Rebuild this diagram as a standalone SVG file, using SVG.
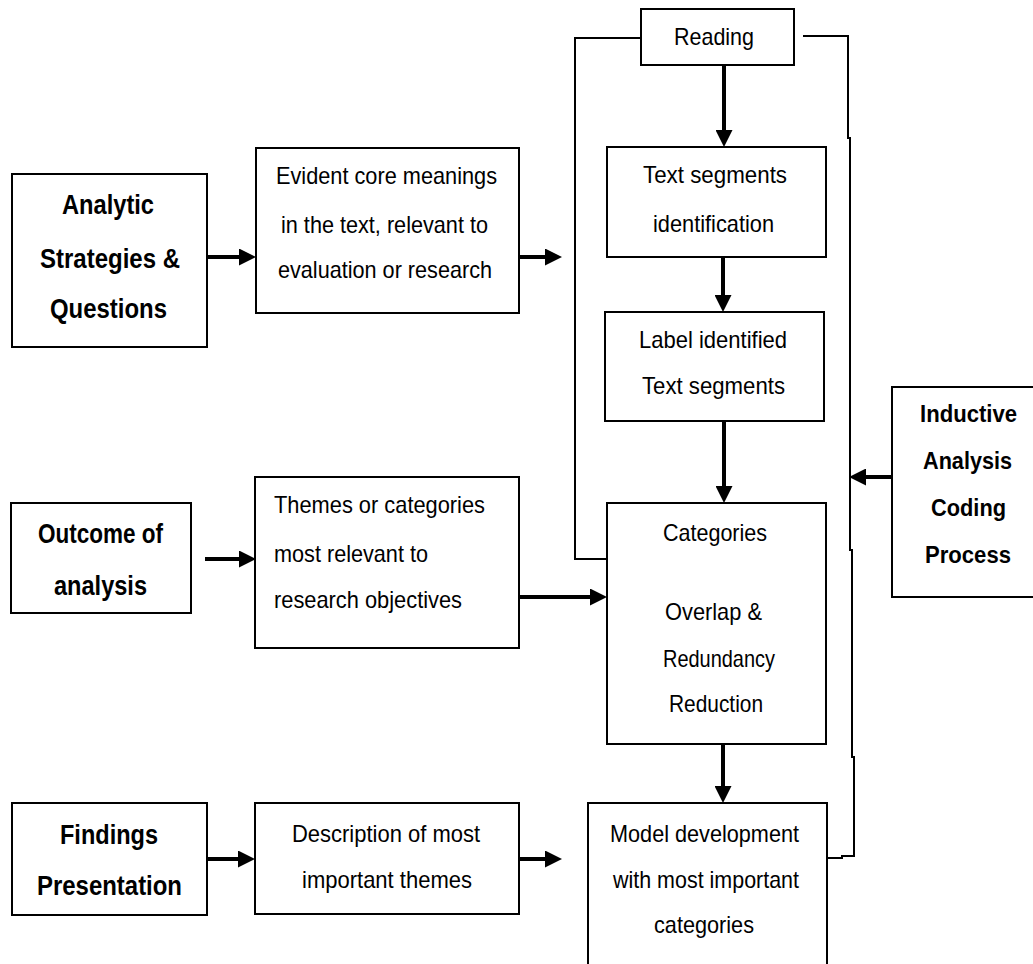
<svg xmlns="http://www.w3.org/2000/svg" width="1033" height="964" viewBox="0 0 1033 964">
  <style>
    .box { fill: #ffffff; stroke: #000000; stroke-width: 2; }
    .txt { font-family: "Liberation Sans Narrow", "Liberation Sans", Arial, sans-serif; font-size: 24px; fill: #000000; }
    .bold { font-family: "Liberation Sans", Arial, sans-serif; font-size: 27px; font-weight: bold; fill: #000000; }
    .edge { font-size: 24px; }
    .arrow { fill: none; stroke: #000000; stroke-width: 4; }
    .loop { fill: none; stroke: #000000; stroke-width: 2; }
  </style>
  <defs>
    <marker id="head" viewBox="0 0 17 17" refX="4" refY="8.5" markerWidth="17" markerHeight="17" markerUnits="userSpaceOnUse" orient="auto">
      <path d="M0,0 L17,8.5 L0,17 Z" fill="#000000"/>
    </marker>
  </defs>
  <rect width="1033" height="964" fill="#ffffff"/>

  <!-- connectors -->
  <g id="connectors">
    <!-- feedback loops around the coding column -->
    <polyline class="loop" points="641,38 575,38 575,559 607,559"/>
    <polyline class="loop" points="803,36 848,36 848,138 850,138 850,550 852,550 852,757 854,757 854,856 842,856 842,858 827,858"/>
    <!-- horizontal arrows -->
    <line class="arrow" x1="207" y1="257" x2="243" y2="257" marker-end="url(#head)"/>
    <line class="arrow" x1="519" y1="257" x2="549" y2="257" marker-end="url(#head)"/>
    <line class="arrow" x1="205" y1="559" x2="243" y2="559" marker-end="url(#head)"/>
    <line class="arrow" x1="519" y1="597" x2="594" y2="597" marker-end="url(#head)"/>
    <line class="arrow" x1="207" y1="859" x2="242" y2="859" marker-end="url(#head)"/>
    <line class="arrow" x1="519" y1="859" x2="549" y2="859" marker-end="url(#head)"/>
    <line class="arrow" x1="892" y1="477" x2="862" y2="477" marker-end="url(#head)"/>
    <!-- vertical arrows -->
    <line class="arrow" x1="724" y1="65" x2="724" y2="134" marker-end="url(#head)"/>
    <line class="arrow" x1="723" y1="257" x2="723" y2="299" marker-end="url(#head)"/>
    <line class="arrow" x1="724" y1="421" x2="724" y2="490" marker-end="url(#head)"/>
    <line class="arrow" x1="723" y1="744" x2="723" y2="790" marker-end="url(#head)"/>
  </g>

  <!-- left column -->
  <g id="analytic">
    <rect class="box" x="12" y="174" width="195" height="173"/>
    <text class="bold" x="62" y="214" textLength="92" lengthAdjust="spacingAndGlyphs">Analytic</text>
    <text class="bold" x="40" y="268" textLength="140" lengthAdjust="spacingAndGlyphs">Strategies &amp;</text>
    <text class="bold" x="50" y="318" textLength="117" lengthAdjust="spacingAndGlyphs">Questions</text>
  </g>
  <g id="outcome">
    <rect class="box" x="11" y="503" width="180" height="110"/>
    <text class="bold" x="38" y="543" textLength="125" lengthAdjust="spacingAndGlyphs">Outcome of</text>
    <text class="bold" x="54" y="595" textLength="93" lengthAdjust="spacingAndGlyphs">analysis</text>
  </g>
  <g id="findings">
    <rect class="box" x="12" y="803" width="195" height="112"/>
    <text class="bold" x="60" y="844" textLength="98" lengthAdjust="spacingAndGlyphs">Findings</text>
    <text class="bold" x="37" y="895" textLength="145" lengthAdjust="spacingAndGlyphs">Presentation</text>
  </g>

  <!-- middle column -->
  <g id="evident">
    <rect class="box" x="256" y="148" width="263" height="165"/>
    <text class="txt" x="276" y="184" textLength="221" lengthAdjust="spacingAndGlyphs">Evident core meanings</text>
    <text class="txt" x="281" y="233" textLength="207" lengthAdjust="spacingAndGlyphs">in the text, relevant to</text>
    <text class="txt" x="278" y="278" textLength="214" lengthAdjust="spacingAndGlyphs">evaluation or research</text>
  </g>
  <g id="themes">
    <rect class="box" x="255" y="477" width="264" height="171"/>
    <text class="txt" x="274" y="513" textLength="211" lengthAdjust="spacingAndGlyphs">Themes or categories</text>
    <text class="txt" x="274" y="562" textLength="154" lengthAdjust="spacingAndGlyphs">most relevant to</text>
    <text class="txt" x="274" y="608" textLength="188" lengthAdjust="spacingAndGlyphs">research objectives</text>
  </g>
  <g id="description">
    <rect class="box" x="255" y="803" width="264" height="111"/>
    <text class="txt" x="292" y="842" textLength="188" lengthAdjust="spacingAndGlyphs">Description of most</text>
    <text class="txt" x="302" y="888" textLength="170" lengthAdjust="spacingAndGlyphs">important themes</text>
  </g>

  <!-- coding column -->
  <g id="reading">
    <rect class="box" x="641" y="9" width="153" height="56"/>
    <text class="txt" x="674" y="45" textLength="80" lengthAdjust="spacingAndGlyphs">Reading</text>
  </g>
  <g id="segments">
    <rect class="box" x="607" y="147" width="219" height="110"/>
    <text class="txt" x="643" y="183" textLength="144" lengthAdjust="spacingAndGlyphs">Text segments</text>
    <text class="txt" x="653" y="232" textLength="121" lengthAdjust="spacingAndGlyphs">identification</text>
  </g>
  <g id="label">
    <rect class="box" x="605" y="312" width="219" height="109"/>
    <text class="txt" x="639" y="348" textLength="148" lengthAdjust="spacingAndGlyphs">Label identified</text>
    <text class="txt" x="642" y="394" textLength="143" lengthAdjust="spacingAndGlyphs">Text segments</text>
  </g>
  <g id="categories">
    <rect class="box" x="607" y="503" width="219" height="241"/>
    <text class="txt" x="663" y="541" textLength="104" lengthAdjust="spacingAndGlyphs">Categories</text>
    <text class="txt" x="665" y="620" textLength="97" lengthAdjust="spacingAndGlyphs">Overlap &amp;</text>
    <text class="txt" x="663" y="667" textLength="112" lengthAdjust="spacingAndGlyphs">Redundancy</text>
    <text class="txt" x="669" y="712" textLength="94" lengthAdjust="spacingAndGlyphs">Reduction</text>
  </g>
  <g id="model">
    <!-- box runs off the bottom edge: three sides only -->
    <path class="box" d="M588,964 L588,803 L827,803 L827,964"/>
    <text class="txt" x="610" y="842" textLength="189" lengthAdjust="spacingAndGlyphs">Model development</text>
    <text class="txt" x="613" y="888" textLength="186" lengthAdjust="spacingAndGlyphs">with most important</text>
    <text class="txt" x="654" y="933" textLength="100" lengthAdjust="spacingAndGlyphs">categories</text>
  </g>

  <!-- right side -->
  <g id="inductive">
    <!-- box runs off the right edge: three sides only -->
    <path class="box" d="M1033,387 L892,387 L892,597 L1033,597"/>
    <text class="bold edge" x="920" y="422" textLength="97" lengthAdjust="spacingAndGlyphs">Inductive</text>
    <text class="bold edge" x="923" y="469" textLength="89" lengthAdjust="spacingAndGlyphs">Analysis</text>
    <text class="bold edge" x="931" y="516" textLength="75" lengthAdjust="spacingAndGlyphs">Coding</text>
    <text class="bold edge" x="925" y="563" textLength="86" lengthAdjust="spacingAndGlyphs">Process</text>
  </g>
</svg>
